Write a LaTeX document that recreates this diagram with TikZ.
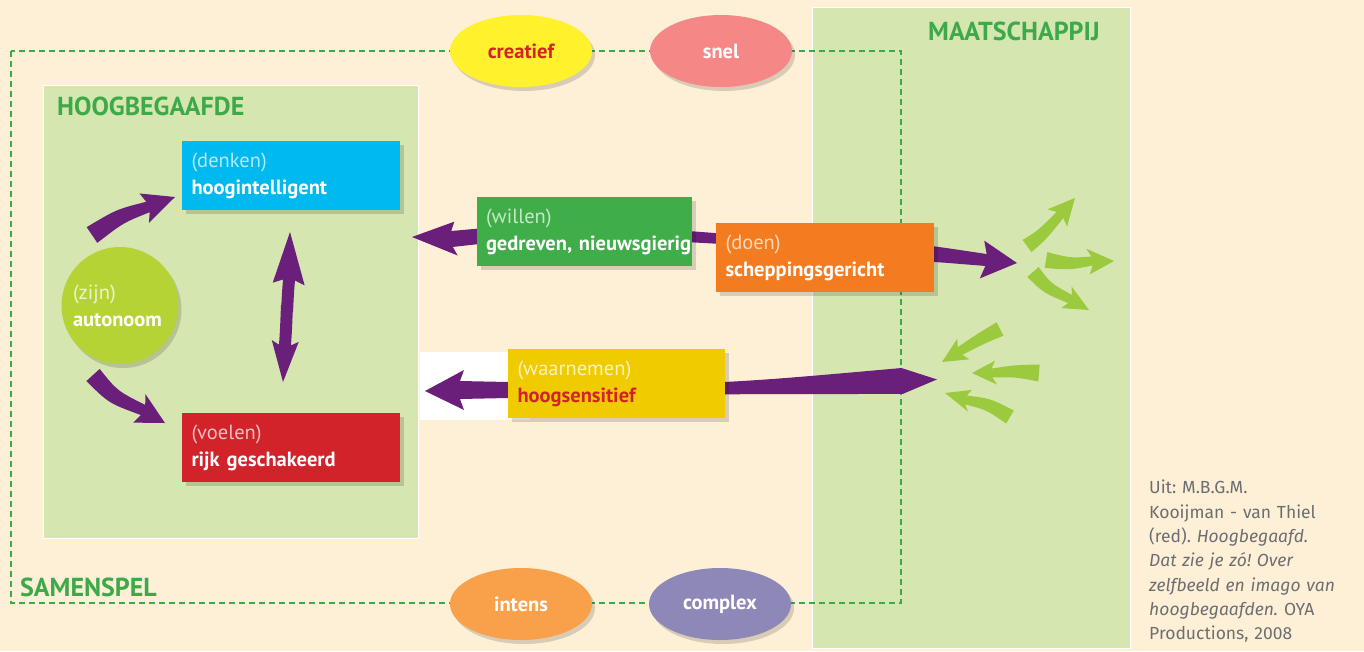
\documentclass[tikz,border=0pt]{standalone}
\usepackage{fontspec}
\setmainfont{PT Sans}
\newfontfamily\citefont{Fira Sans}
\usetikzlibrary{calc,shapes.geometric,shadows}
\definecolor{bg}{HTML}{FEF0D7}
\definecolor{lgreen}{HTML}{D5E6B0}
\definecolor{dgreen}{HTML}{3DAA4A}
\definecolor{cyanbox}{HTML}{00B9EE}
\definecolor{redbox}{HTML}{D2232A}
\definecolor{greenbox}{HTML}{3FAE49}
\definecolor{orangebox}{HTML}{F47C20}
\definecolor{yellowbox}{HTML}{EFCB00}
\definecolor{purp}{HTML}{6A1F7B}
\definecolor{lime}{HTML}{B5D334}
\definecolor{garrow}{HTML}{9BCA3E}
\definecolor{ycre}{HTML}{FFF22D}
\definecolor{psnel}{HTML}{F58886}
\definecolor{oint}{HTML}{F9A04A}
\definecolor{vcom}{HTML}{8E88B8}
\definecolor{citegray}{HTML}{6D6E71}
% tapered arrow: tail, control, neck, tip, tail width, mid width, neck width, head width, tail point
\newcommand\taper[9]{%
 \coordinate (tT) at #1; \coordinate (tC) at #2; \coordinate (tN) at #3; \coordinate (tH) at #4;
 \coordinate (tTL) at ($(tT)!#5pt/2!90:(tC)$);
 \coordinate (tTR) at ($(tT)!#5pt/2!-90:(tC)$);
 \coordinate (tTT) at ($(tT)!-#9pt!(tC)$);
 \coordinate (tA) at ($(tT)!#6pt/2!90:(tN)$);
 \coordinate (tB) at ($(tT)!#6pt/2!-90:(tN)$);
 \coordinate (tCL) at ($(tC)+(tA)-(tT)$);
 \coordinate (tCR) at ($(tC)+(tB)-(tT)$);
 \coordinate (tNL) at ($(tN)!#7pt/2!-90:(tC)$);
 \coordinate (tNR) at ($(tN)!#7pt/2!90:(tC)$);
 \coordinate (tNb) at ($(tN)!4pt!(tC)$);
 \coordinate (tWL) at ($(tNb)!#8pt/2!-90:(tC)$);
 \coordinate (tWR) at ($(tNb)!#8pt/2!90:(tC)$);
 \fill (tTL) .. controls (tCL) and (tCL) .. (tNL) -- (tWL) -- (tH) -- (tWR) -- (tNR) .. controls (tCR) and (tCR) .. (tTR) -- (tTT) -- cycle;
}
\tikzset{
 box/.style={rectangle, minimum width=218pt, minimum height=69pt, text width=199pt, align=left,
   inner xsep=9.5pt, inner ysep=0pt, font=\fontsize{20.5}{27}\selectfont, text=white,
   drop shadow={shadow xshift=4pt, shadow yshift=-4pt, opacity=0.15, fill=black}},
 oval/.style={ellipse, minimum width=142pt, minimum height=72pt, inner sep=0pt,
   font=\fontsize{20.5}{24}\selectfont\bfseries, text=white,
   drop shadow={shadow xshift=3pt, shadow yshift=-4pt, opacity=0.15, fill=black}},
 biglabel/.style={anchor=base west, text=dgreen, font=\fontsize{26}{30}\selectfont\bfseries, inner sep=0pt},
 area/.style={draw=white, line width=1pt, fill=lgreen},
}
\begin{document}
\begin{tikzpicture}[x=1pt,y=-1pt]
\useasboundingbox (0,0) rectangle (1364,651);
\fill[bg] (0,0) rectangle (1364,651);
% areas
\draw[area] (812,7) rectangle (1130,648);
\draw[area] (43,85) rectangle (418,538);
\draw[dgreen, line width=2.6pt, dash pattern=on 6pt off 4pt] (11,51) rectangle (901,603);
\fill[white] (420,352) rectangle (530,420);
% purple arrows
\begin{scope}[fill=purp]
\taper{(92,235)}{(120,216)}{(148,207)}{(175,197)}{19}{15}{11}{31}{0}
\taper{(93,375)}{(113,397)}{(143,410)}{(165,423)}{18}{15}{11}{31}{0}
\taper{(287,312)}{(288,292)}{(289,280)}{(290,232)}{12}{12}{12}{32}{0}
\taper{(287,305)}{(286,330)}{(285,345)}{(283,382)}{12}{12}{12}{27}{0}
\taper{(740,240)}{(560,228)}{(452,239)}{(412,237)}{10}{14}{16}{34}{0}
\taper{(760,246)}{(900,250)}{(986,260)}{(1017,263)}{22}{18}{12}{38}{0}
\taper{(902,381)}{(700,390)}{(460,390)}{(425,391)}{26}{8}{18}{40}{35}
\end{scope}
% green arrows
\begin{scope}[fill=garrow]
\taper{(1027,246)}{(1042,235)}{(1060,215)}{(1075,198)}{15}{12}{9}{26}{0}
\taper{(1046,260)}{(1070,264)}{(1092,261)}{(1114,261)}{16}{12}{9}{26}{0}
\taper{(1033,272)}{(1047,288)}{(1070,299)}{(1089,310)}{15}{12}{9}{24}{0}
\taper{(1000,329)}{(982,338)}{(960,351)}{(942,362)}{15}{12}{9}{24}{0}
\taper{(1039,373)}{(1015,371)}{(992,373)}{(972,373)}{17}{12}{9}{24}{0}
\taper{(1010,417)}{(988,404)}{(966,400)}{(945,393)}{15}{12}{9}{22}{0}
\end{scope}
% boxes
\node[box, fill=cyanbox] (denk) at (291,175.5) {\textcolor{white!70!cyanbox}{(denken)}\\\textbf{hoogintelligent}};
\node[box, fill=redbox] (voel) at (291,447.5) {\textcolor{white!70!redbox}{(voelen)}\\\textbf{rijk geschakeerd}};
\node[box, fill=greenbox, minimum width=215pt, text width=197pt, inner xsep=9pt] (will) at (584.5,231.5) {\textcolor{white!70!greenbox}{(willen)}\\\mbox{\textbf{gedreven, nieuwsgierig}}};
\node[box, fill=orangebox] (doen) at (825,257.5) {\textcolor{white!70!orangebox}{(doen)}\\\textbf{scheppingsgericht}};
\node[box, fill=yellowbox, minimum width=217pt, text width=198pt] (waar) at (616.5,383.5) {\textcolor{white!75!yellowbox}{(waarnemen)}\\\textcolor{redbox}{\textbf{hoogsensitief}}};
% circle
\node[circle, fill=lime, minimum size=117pt, inner sep=0pt, text width=94pt, align=left, text=white,
  font=\fontsize{20.5}{27}\selectfont,
  drop shadow={shadow xshift=3pt, shadow yshift=-4pt, opacity=0.15, fill=black}] (zijn) at (120,305.5)
  {\textcolor{white!75!lime}{(zijn)}\\\textbf{autonoom}};
% ovals
\node[oval, fill=ycre, text=redbox] (cre) at (521,51) {creatief};
\node[oval, fill=psnel] (snel) at (721,51) {snel};
\node[oval, fill=oint] (int) at (521,604) {intens};
\node[oval, fill=vcom] (com) at (720,604) {complex};
% labels
\node[biglabel] (lhoog) at (57,115) {HOOGBEGAAFDE};
\node[biglabel] (lmaat) at (928,40) {MAATSCHAPPIJ};
\node[biglabel] (lsam) at (20,596) {SAMENSPEL};
% citation
\node[anchor=north west, inner sep=0pt, text width=215pt, align=left, text=citegray,
  font=\citefont\fontsize{17.5}{24.3}\selectfont\frenchspacing] (cite) at (1149,480)
  {Uit: M.B.G.M.\\Kooijman - van Thiel\\(red). \textit{Hoogbegaafd.}\\\textit{Dat zie je zó! Over}\\\textit{zelfbeeld en imago van}\\\textit{hoogbegaafden.} OYA\\Productions, 2008};
\end{tikzpicture}
\end{document}
